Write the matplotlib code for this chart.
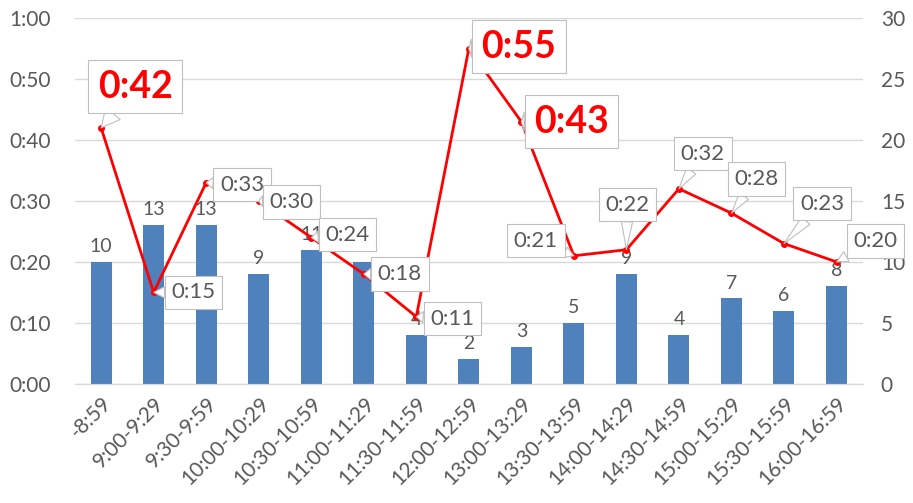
import numpy as np
import matplotlib
matplotlib.use('Agg')
from matplotlib import pyplot as plt
from matplotlib.ticker import FuncFormatter, MultipleLocator

plt.rcParams['font.family'] = ['Lato', 'DejaVu Sans']

# Daten
slots = ['-8:59', '9:00-9:29', '9:30-9:59', '10:00-10:29', '10:30-10:59',
         '11:00-11:29', '11:30-11:59', '12:00-12:59', '13:00-13:29', '13:30-13:59',
         '14:00-14:29', '14:30-14:59', '15:00-15:29', '15:30-15:59', '16:00-16:59']
counts = [10, 13, 13, 9, 11, 10, 4, 2, 3, 5, 9, 4, 7, 6, 8]
wait_min = [42, 15, 33, 30, 24, 18, 11, 55, 43, 21, 22, 32, 28, 23, 20]
highlight = [True, False, False, False, False, False, False, True, True,
             False, False, False, False, False, False]

# Position der Callouts relativ zum Punkt (Pixel)
offsets = [(34, 41), (40, 0), (36, -2), (33, -1), (36, 3), (36, 0), (36, -2),
           (50, 2), (50, 0), (-38, 15), (1, 45), (24, 35), (25, 34), (38, 40), (39, 21)]

gray = '#595959'
grid_col = '#d9d9d9'

fig = plt.figure(figsize=(9.13, 5.03), dpi=100)
ax = fig.add_axes([0.082, 0.237, 0.863, 0.727])
ax2 = ax.twinx()
ax.set_zorder(2)
ax.patch.set_visible(False)

x = np.arange(len(slots))

# Balken (rechte Achse)
bars = ax2.bar(x, counts, width=0.4, color='#4f81bd', zorder=2)
ax2.bar_label(bars, padding=5, fontsize=14, color=gray)
ax2.set_ylim(0, 30)
ax2.yaxis.set_major_locator(MultipleLocator(5))
ax2.grid(axis='y', color=grid_col, lw=1)
ax2.set_axisbelow(True)

# Linie (linke Achse, Minuten)
ax.plot(x, wait_min, color='red', lw=2, marker='o', ms=4, mfc='red', mec='red')
ax.set_ylim(0, 60)
ax.yaxis.set_major_locator(MultipleLocator(10))
ax.yaxis.set_major_formatter(FuncFormatter(lambda v, p: '%d:%02d' % (v // 60, v % 60)))
ax.set_xlim(-0.5, len(slots) - 0.5)
ax.set_xticks(x)
ax.set_xticklabels(slots, rotation=45, ha='right', rotation_mode='anchor')

for i, (v, hl) in enumerate(zip(wait_min, highlight)):
    label = '%d:%02d' % (v // 60, v % 60)
    if hl:
        kw = dict(fontsize=27, fontweight='bold', color='red')
        pad = 0.25
    else:
        kw = dict(fontsize=16, color=gray)
        pad = 0.3
    ax.annotate(label, (x[i], v), xytext=offsets[i], textcoords='offset pixels',
                ha='center', va='center', zorder=5,
                bbox=dict(boxstyle='square,pad=%.2f' % pad, fc='white', ec='#bfbfbf', lw=0.8),
                arrowprops=dict(arrowstyle='wedge,tail_width=0.5', fc='white', ec='#bfbfbf',
                                lw=0.8, shrinkA=0, shrinkB=0),
                **kw)

for a in (ax, ax2):
    for s in ('top', 'left', 'right'):
        a.spines[s].set_visible(False)
    a.spines['bottom'].set_color(grid_col)
    a.tick_params(length=0, labelsize=15, labelcolor=gray)
ax.tick_params(axis='y', pad=17)
ax2.tick_params(axis='y', pad=13)
ax.tick_params(axis='x', pad=7)

fig.savefig('out.png', dpi=100)
